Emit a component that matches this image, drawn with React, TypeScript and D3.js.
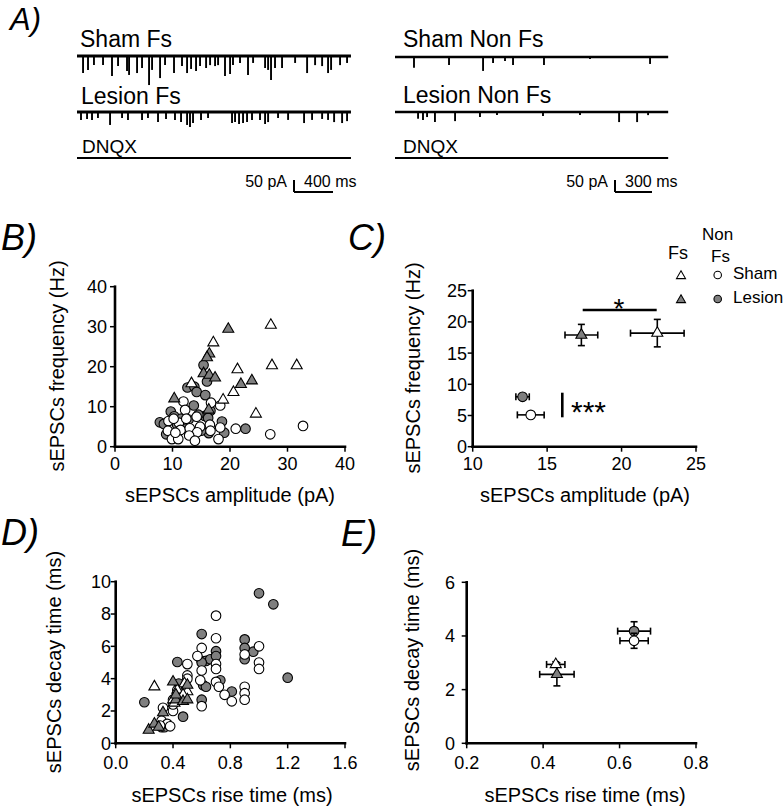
import React from "react";
import * as d3 from "d3";

const FONT = "'Liberation Sans', Arial, Helvetica, sans-serif";
const GRAY = "#7f7f7f";

// ---------- Panel A: event times (ms) and amplitudes (pA) ----------
const FS_SHAM_T = [62,113,174,267,359,421,513,534,616,667,739,770,852,903,995,1077,1129,1170,1221,1262,1324,1365,1416,1447,1518,1570,1600,1672,1754,1806,1929,1960,1990,2031,2103,2237,2360,2442,2514,2575,2606,2698,2770];
const FS_SHAM_A = [71,58,38,38,83,42,63,79,71,50,121,58,92,38,71,42,71,54,63,42,50,38,42,38,83,75,38,29,79,29,50,58,100,50,50,29,71,38,42,71,58,38,29];
const FS_LES_T = [41,103,154,215,339,462,523,667,728,831,913,1005,1067,1129,1159,1190,1272,1344,1590,1621,1662,1703,1744,1795,1877,1929,1960,2062,2165,2329,2411,2514,2575,2637,2719,2770];
const FS_LES_A = [33,29,33,25,54,25,33,33,25,42,29,33,42,54,63,46,33,25,46,42,50,46,42,33,33,50,42,25,33,46,33,29,33,42,46,38];
const NF_SHAM_T = [154,438,714,795,892,957,1208,1581,2068];
const NF_SHAM_A = [45,33,58,25,17,33,33,8,29];
const NF_LES_T = [187,227,260,324,487,689,827,1200,1500,1817,1963,2052];
const NF_LES_A = [28,33,21,42,38,21,13,17,13,42,42,13];
const FS_DURATION = 2810;
const NF_DURATION = 2215;

// ---------- Panel B: amplitude (pA), frequency (Hz) ----------
type Pt = [number, number];
const B_NF_LESION: Pt[] = [[15.4,20.4],[16.0,16.3],[12.6,14.8],[13.8,15.0],[14.2,13.7],[15.7,12.9],[13.7,10.3],[9.7,8.8],[16.6,9.0],[7.8,6.1],[8.5,5.7],[18.6,6.3],[15.6,7.7],[8.9,3.1],[16.3,3.4],[19.0,3.5],[22.7,4.5],[10.3,7.6],[11.5,7.0],[12.8,6.8],[14.5,8.0],[12.3,4.5],[15.0,4.0],[10.8,5.5],[10.7,3.3],[16.2,7.2]];
const B_NF_SHAM: Pt[] = [[11.9,11.3],[16.7,11.0],[18.3,10.3],[12.2,9.2],[9.3,6.4],[14.2,7.5],[16.5,5.5],[11.1,6.0],[14.8,5.0],[9.2,4.0],[11.4,4.2],[13.0,4.6],[14.3,3.6],[18.3,4.8],[9.9,1.9],[11.0,1.9],[12.9,2.8],[13.9,1.5],[18.0,1.9],[21.0,4.5],[27.0,3.1],[32.7,5.2],[10.2,7.0],[12.4,7.0],[10.5,3.5],[16.6,4.0]];
const B_FS_SHAM: Pt[] = [[27.1,30.4],[17.1,26.0],[21.3,19.3],[27.3,20.3],[31.6,20.3],[20.6,13.6],[18.8,11.7],[24.5,8.2],[13.3,15.8]];
const B_FS_LESION: Pt[] = [[19.7,29.4],[16.4,23.2],[16.0,22.3],[15.4,18.3],[16.4,17.9],[17.4,17.2],[21.9,15.6],[23.8,16.5],[10.3,12.0],[16.3,9.2]];

// ---------- Panel C: mean ± SEM [x, y, xerr, yerr] ----------
const C_FS_LESION = [17.3, 17.9, 1.1, 1.7];
const C_FS_SHAM = [22.4, 18.2, 1.8, 2.2];
const C_NF_LESION = [13.35, 8.0, 0.45, 0.5];
const C_NF_SHAM = [13.9, 5.1, 0.9, 0.4];

// ---------- Panel D: rise time (ms), decay time (ms) ----------
const D_NF_LESION: Pt[] = [[1.00,9.28],[1.10,8.6],[1.20,4.06],[0.96,5.67],[0.90,6.43],[0.90,5.9],[0.90,5.2],[0.20,2.54],[0.43,5.03],[0.44,3.7],[0.47,1.65],[0.60,6.76],[0.60,5.1],[0.63,5.1],[0.66,5.2],[0.60,2.7],[0.61,3.6],[0.63,3.5],[0.70,5.7],[0.70,5.4],[0.73,3.9],[0.81,3.2],[0.32,1.0],[0.34,1.0],[0.60,5.0]];
const D_NF_SHAM: Pt[] = [[0.70,7.9],[0.70,6.5],[0.70,4.9],[0.70,4.6],[0.70,3.8],[0.72,3.5],[0.76,3.0],[0.81,2.6],[0.60,5.9],[0.57,5.4],[0.60,4.5],[0.59,3.9],[0.60,2.3],[1.00,6.0],[1.00,5.0],[1.00,4.6],[0.90,3.5],[0.90,3.1],[0.90,2.7],[0.90,5.5],[0.50,4.9],[0.50,4.2],[0.50,4.0],[0.43,3.3],[0.40,2.0],[0.40,2.4],[0.33,2.2],[0.32,1.4],[0.36,1.2],[0.38,1.05],[0.31,1.1],[0.40,2.7]];
const D_FS_SHAM: Pt[] = [[0.27,3.5],[0.40,2.7],[0.41,2.5],[0.45,2.8],[0.48,3.7],[0.50,3.2],[0.43,3.3],[0.47,3.0]];
const D_FS_LESION: Pt[] = [[0.23,0.82],[0.27,1.2],[0.33,1.9],[0.40,3.8],[0.42,2.7],[0.47,2.6],[0.50,3.6],[0.50,2.7],[0.42,3.0],[0.30,1.0]];

// ---------- Panel E: mean ± SEM [x, y, xerr, yerr] ----------
const E_FS_SHAM = [0.433, 2.94, 0.024, 0.1];
const E_FS_LESION = [0.436, 2.57, 0.045, 0.43];
const E_NF_LESION = [0.638, 4.18, 0.043, 0.35];
const E_NF_SHAM = [0.638, 3.82, 0.037, 0.28];

const LEGEND_ROWS = ["Sham", "Lesion"];

type Spec = {
  x0: number; x1: number; y0: number; y1: number;
  xDom: [number, number]; yDom: [number, number];
  xTicks: number[]; yTicks: number[]; xFmt: string;
  yTickEnd: number; xTickBase: number;
  xLabel: string; yLabel: string;
  xLabelX: number; xLabelY: number; yLabelX: number; yLabelY: number;
};

const SPEC_B: Spec = { x0: 115, x1: 345, y0: 446.7, y1: 286.7, xDom: [0, 40], yDom: [0, 40], xTicks: [0, 10, 20, 30, 40], yTicks: [0, 10, 20, 30, 40], xFmt: "d", yTickEnd: 107, xTickBase: 470, xLabel: "sEPSCs amplitude (pA)", yLabel: "sEPSCs frequency (Hz)", xLabelX: 230, xLabelY: 502, yLabelX: 64, yLabelY: 366 };
const SPEC_C: Spec = { x0: 472.7, x1: 696, y0: 446.7, y1: 290.7, xDom: [10, 25], yDom: [0, 25], xTicks: [10, 15, 20, 25], yTicks: [0, 5, 10, 15, 20, 25], xFmt: "d", yTickEnd: 467, xTickBase: 470, xLabel: "sEPSCs amplitude (pA)", yLabel: "sEPSCs frequency (Hz)", xLabelX: 585, xLabelY: 502, yLabelX: 420, yLabelY: 368 };
const SPEC_D: Spec = { x0: 115.7, x1: 345, y0: 743.3, y1: 581.7, xDom: [0, 1.6], yDom: [0, 10], xTicks: [0, 0.4, 0.8, 1.2, 1.6], yTicks: [0, 2, 4, 6, 8, 10], xFmt: ".1f", yTickEnd: 111, xTickBase: 769, xLabel: "sEPSCs rise time (ms)", yLabel: "sEPSCs decay time (ms)", xLabelX: 232, xLabelY: 802, yLabelX: 61, yLabelY: 662 };
const SPEC_E: Spec = { x0: 466.7, x1: 696, y0: 743.3, y1: 582.3, xDom: [0.2, 0.8], yDom: [0, 6], xTicks: [0.2, 0.4, 0.6, 0.8], yTicks: [0, 2, 4, 6], xFmt: ".1f", yTickEnd: 455, xTickBase: 769, xLabel: "sEPSCs rise time (ms)", yLabel: "sEPSCs decay time (ms)", xLabelX: 585, xLabelY: 802, yLabelX: 419, yLabelY: 660 };

function scales(s: Spec) {
  return {
    x: d3.scaleLinear().domain(s.xDom).range([s.x0, s.x1]),
    y: d3.scaleLinear().domain(s.yDom).range([s.y0, s.y1]),
  };
}

function Axes({ s }: { s: Spec }) {
  const { x, y } = scales(s);
  const xf = d3.format(s.xFmt);
  const yf = d3.format("d");
  return (
    <g fontFamily={FONT} fill="#000">
      <line x1={s.x0} x2={s.x1} y1={s.y0} y2={s.y0} stroke="#000" strokeWidth={2.6} strokeLinecap="square" />
      <line x1={s.x0} x2={s.x0} y1={s.y0} y2={s.y1} stroke="#000" strokeWidth={2.6} strokeLinecap="square" />
      {s.xTicks.map((t) => (
        <g key={"x" + t}>
          <line x1={x(t)} x2={x(t)} y1={s.y0} y2={s.y0 + 5} stroke="#000" strokeWidth={1.5} />
          <text x={x(t)} y={s.xTickBase} textAnchor="middle" fontSize={18}>{xf(t)}</text>
        </g>
      ))}
      {s.yTicks.map((t) => (
        <g key={"y" + t}>
          <line x1={s.x0 - 5} x2={s.x0} y1={y(t)} y2={y(t)} stroke="#000" strokeWidth={1.5} />
          <text x={s.yTickEnd} y={y(t) + 6.4} textAnchor="end" fontSize={18}>{yf(t)}</text>
        </g>
      ))}
      <text x={s.xLabelX} y={s.xLabelY} textAnchor="middle" fontSize={20}>{s.xLabel}</text>
      <text transform={`translate(${s.yLabelX},${s.yLabelY}) rotate(-90)`} textAnchor="middle" fontSize={20}>{s.yLabel}</text>
    </g>
  );
}

function triPath(side: number) {
  return d3.symbol(d3.symbolTriangle, (side * side * Math.sqrt(3)) / 4)() as string;
}

function Marker({ kind, fill, cx, cy, size }: { kind: "tri" | "circ"; fill: string; cx: number; cy: number; size: number }) {
  if (kind === "tri")
    return <path d={triPath(size)} transform={`translate(${cx},${cy})`} fill={fill} stroke="#000" strokeWidth={1.1} />;
  return <circle cx={cx} cy={cy} r={size / 2} fill={fill} stroke="#000" strokeWidth={1.1} />;
}

function Scatter({ s, data, kind, fill }: { s: Spec; data: Pt[]; kind: "tri" | "circ"; fill: string }) {
  const { x, y } = scales(s);
  return (
    <g>
      {data.map((d, i) => (
        <Marker key={i} kind={kind} fill={fill} cx={x(d[0])} cy={y(d[1])} size={kind === "tri" ? 11 : 9.6} />
      ))}
    </g>
  );
}

function MeanPoint({ s, v, kind, fill }: { s: Spec; v: number[]; kind: "tri" | "circ"; fill: string }) {
  const { x, y } = scales(s);
  const [mx, my, ex, ey] = v;
  const cx = x(mx), cy = y(my);
  const cap = 3.5;
  const st = { stroke: "#000", strokeWidth: 1.6 };
  return (
    <g>
      <line x1={x(mx - ex)} x2={x(mx + ex)} y1={cy} y2={cy} {...st} />
      <line x1={x(mx - ex)} x2={x(mx - ex)} y1={cy - cap} y2={cy + cap} {...st} />
      <line x1={x(mx + ex)} x2={x(mx + ex)} y1={cy - cap} y2={cy + cap} {...st} />
      <line x1={cx} x2={cx} y1={y(my - ey)} y2={y(my + ey)} {...st} />
      <line x1={cx - cap} x2={cx + cap} y1={y(my - ey)} y2={y(my - ey)} {...st} />
      <line x1={cx - cap} x2={cx + cap} y1={y(my + ey)} y2={y(my + ey)} {...st} />
      <Marker kind={kind} fill={fill} cx={cx} cy={cy} size={kind === "tri" ? 11 : 9.6} />
    </g>
  );
}

function Trace({ x0, y, duration, msPerBar, pxPerBar, times, amps, width = 3 }: { x0: number; y: number; duration: number; msPerBar: number; pxPerBar: number; times: number[]; amps: number[]; width?: number }) {
  const xs = d3.scaleLinear().domain([0, msPerBar]).range([x0, x0 + pxPerBar]);
  const ys = d3.scaleLinear().domain([0, 50]).range([y, y + 12]);
  return (
    <g>
      <line x1={xs(0)} x2={xs(duration)} y1={y} y2={y} stroke="#000" strokeWidth={width} />
      {times.map((t, i) => (
        <line key={i} x1={xs(t)} x2={xs(t)} y1={y} y2={ys(amps[i])} stroke="#000" strokeWidth={1.9} />
      ))}
    </g>
  );
}

function ScaleBar({ x, y, pxPerBar, label }: { x: number; y: number; pxPerBar: number; label: string }) {
  const ys = d3.scaleLinear().domain([0, 50]).range([0, 12]);
  return (
    <g fontFamily={FONT} fontSize={16}>
      <line x1={x} x2={x} y1={y - ys(50)} y2={y} stroke="#000" strokeWidth={2} />
      <line x1={x} x2={x + pxPerBar} y1={y} y2={y} stroke="#000" strokeWidth={2} />
      <text x={x - 7} y={y - 5} textAnchor="end">50 pA</text>
      <text x={x + 10} y={y - 5}>{label}</text>
    </g>
  );
}

export default function App() {
  const panelLabel = { fontFamily: FONT, fontStyle: "italic" as const, fontSize: 36 };
  return (
    <svg width={783} height={809} style={{ position: "absolute", left: 0, top: 0, background: "#fff" }}>
      <rect x={0} y={0} width={783} height={809} fill="#fff" />
      {/* Panel A */}
      <text x={10} y={30} {...panelLabel} fontSize={31}>A)</text>
      <g fontFamily={FONT}>
        <text x={80} y={47} fontSize={23}>Sham Fs</text>
        <text x={81} y={104} fontSize={23}>Lesion Fs</text>
        <text x={82} y={153} fontSize={19}>DNQX</text>
        <text x={403} y={47} fontSize={23}>Sham Non Fs</text>
        <text x={403} y={103} fontSize={23}>Lesion Non Fs</text>
        <text x={403} y={153} fontSize={19}>DNQX</text>
      </g>
      <Trace x0={77} y={56} duration={FS_DURATION} msPerBar={400} pxPerBar={39} times={FS_SHAM_T} amps={FS_SHAM_A} />
      <Trace x0={77} y={112} duration={FS_DURATION} msPerBar={400} pxPerBar={39} times={FS_LES_T} amps={FS_LES_A} />
      <Trace x0={77} y={158} duration={FS_DURATION} msPerBar={400} pxPerBar={39} times={[]} amps={[]} width={2.2} />
      <Trace x0={395} y={57} duration={NF_DURATION} msPerBar={300} pxPerBar={37} times={NF_SHAM_T} amps={NF_SHAM_A} width={2.6} />
      <Trace x0={395} y={112} duration={NF_DURATION} msPerBar={300} pxPerBar={37} times={NF_LES_T} amps={NF_LES_A} width={2.6} />
      <Trace x0={395} y={158} duration={NF_DURATION} msPerBar={300} pxPerBar={37} times={[]} amps={[]} width={2.2} />
      <ScaleBar x={294} y={192} pxPerBar={39} label="400 ms" />
      <ScaleBar x={615} y={192} pxPerBar={37} label="300 ms" />

      {/* Panel B */}
      <text x={1} y={250} {...panelLabel}>B)</text>
      <Axes s={SPEC_B} />
      <Scatter s={SPEC_B} data={B_NF_LESION} kind="circ" fill={GRAY} />
      <Scatter s={SPEC_B} data={B_NF_SHAM} kind="circ" fill="#fff" />
      <Scatter s={SPEC_B} data={B_FS_SHAM} kind="tri" fill="#fff" />
      <Scatter s={SPEC_B} data={B_FS_LESION} kind="tri" fill={GRAY} />

      {/* Panel C */}
      <text x={348} y={250} {...panelLabel}>C)</text>
      <Axes s={SPEC_C} />
      <MeanPoint s={SPEC_C} v={C_FS_LESION} kind="tri" fill={GRAY} />
      <MeanPoint s={SPEC_C} v={C_FS_SHAM} kind="tri" fill="#fff" />
      <MeanPoint s={SPEC_C} v={C_NF_LESION} kind="circ" fill={GRAY} />
      <MeanPoint s={SPEC_C} v={C_NF_SHAM} kind="circ" fill="#fff" />
      <line x1={582.7} x2={656.7} y1={310} y2={310} stroke="#000" strokeWidth={2.6} />
      <text x={619} y={318} textAnchor="middle" fontFamily={FONT} fontSize={28}>*</text>
      <line x1={562.3} x2={562.3} y1={392.7} y2={417.3} stroke="#000" strokeWidth={2.6} />
      <text x={571} y={422} fontFamily={FONT} fontSize={30}>***</text>
      {/* legend */}
      <g fontFamily={FONT}>
        <text x={668} y={259} fontSize={18}>Fs</text>
        <text x={702} y={240} fontSize={17}>Non</text>
        <text x={711} y={262} fontSize={17}>Fs</text>
        {LEGEND_ROWS.map((r, i) => (
          <g key={r}>
            <Marker kind="tri" fill={i === 0 ? "#fff" : GRAY} cx={681} cy={276 + i * 24} size={9} />
            <Marker kind="circ" fill={i === 0 ? "#fff" : GRAY} cx={717.7} cy={275 + i * 24} size={7.5} />
            <text x={733} y={279 + i * 24} fontSize={17}>{r}</text>
          </g>
        ))}
      </g>

      {/* Panel D */}
      <text x={1} y={545} {...panelLabel}>D)</text>
      <Axes s={SPEC_D} />
      <Scatter s={SPEC_D} data={D_NF_LESION} kind="circ" fill={GRAY} />
      <Scatter s={SPEC_D} data={D_NF_SHAM} kind="circ" fill="#fff" />
      <Scatter s={SPEC_D} data={D_FS_SHAM} kind="tri" fill="#fff" />
      <Scatter s={SPEC_D} data={D_FS_LESION} kind="tri" fill={GRAY} />

      {/* Panel E */}
      <text x={341} y={546} {...panelLabel}>E)</text>
      <Axes s={SPEC_E} />
      <MeanPoint s={SPEC_E} v={E_FS_LESION} kind="tri" fill={GRAY} />
      <MeanPoint s={SPEC_E} v={E_FS_SHAM} kind="tri" fill="#fff" />
      <MeanPoint s={SPEC_E} v={E_NF_LESION} kind="circ" fill={GRAY} />
      <MeanPoint s={SPEC_E} v={E_NF_SHAM} kind="circ" fill="#fff" />
    </svg>
  );
}
